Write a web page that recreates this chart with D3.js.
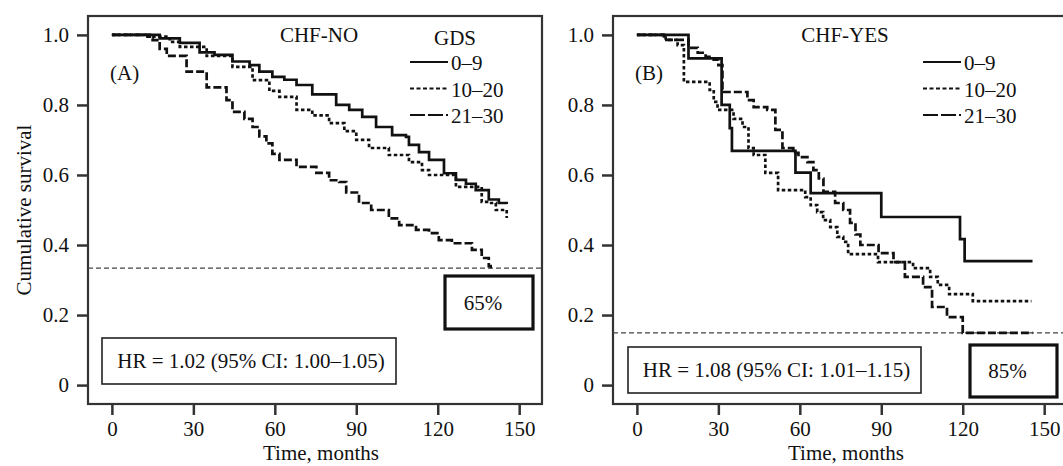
<!DOCTYPE html>
<html>
<head>
<meta charset="utf-8">
<script src="https://cdn.jsdelivr.net/npm/d3@7"></script>
<style>
  body { margin: 0; background: #fff; }
  text { font-family: "Liberation Serif", "Times New Roman", serif; fill: #111; }
</style>
</head>
<body>
<div id="chart"></div>
<script>
// categories / ticks
const groups = ["0–9", "10–20", "21–30"];
const timeTicks = [0, 30, 60, 90, 120, 150];
const survivalTicks = [0, 0.2, 0.4, 0.6, 0.8, 1.0];

// panel A: CHF-NO, [months, cumulative survival]
const chfNo_0_9 = [[0,1],[10.3,1],[17.6,0.99],[25,0.977],[32.3,0.95],[37.8,0.943],[44.4,0.924],[50.7,0.914],[54.3,0.895],[59.1,0.88],[63.5,0.872],[68,0.857],[73.8,0.83],[82.6,0.8],[87.4,0.786],[92.2,0.766],[97.3,0.737],[103.2,0.714],[108.3,0.709],[109.4,0.686],[113.1,0.665],[116.8,0.643],[122.3,0.605],[126.7,0.586],[130.4,0.575],[134,0.557],[138.8,0.53],[142.5,0.52],[145.4,0.517]];
const chfNo_10_20 = [[0,1],[12,0.995],[21.3,0.98],[25,0.966],[34.9,0.94],[44.4,0.909],[51.8,0.871],[58,0.84],[61.7,0.823],[68,0.786],[73.8,0.77],[80,0.748],[85.6,0.725],[90,0.7],[94.7,0.677],[102,0.657],[109.4,0.637],[114.2,0.614],[116.8,0.6],[126.7,0.566],[136.2,0.523],[138.8,0.52],[141.4,0.5],[145.4,0.477]];
const chfNo_21_30 = [[0,1],[14,0.99],[15,0.985],[17.6,0.96],[20.2,0.94],[27.5,0.895],[34.9,0.85],[42.2,0.814],[44.4,0.78],[48.8,0.76],[51.8,0.737],[54.3,0.71],[56.9,0.69],[59.1,0.66],[61.7,0.643],[68,0.623],[75.3,0.606],[80,0.585],[83.7,0.58],[86.3,0.55],[91,0.52],[95.5,0.5],[102,0.476],[105.8,0.457],[112,0.443],[116.8,0.434],[120.4,0.414],[125.2,0.405],[132.6,0.386],[136.2,0.363],[138.8,0.34],[139.5,0.334]];

// panel B: CHF-YES
const chfYes_0_9 = [[0,1],[19,0.933],[31.2,0.8],[34.2,0.734],[35,0.669],[58.4,0.607],[64,0.548],[90,0.48],[119,0.417],[120.7,0.354],[145.7,0.354]];
const chfYes_10_20 = [[0,1],[10.6,0.986],[15,0.971],[17.3,0.866],[26.8,0.843],[28.3,0.809],[29.7,0.786],[35.6,0.76],[38.9,0.737],[41.1,0.677],[43,0.657],[47.3,0.606],[52,0.557],[62,0.537],[64,0.514],[66.4,0.494],[68.6,0.471],[71.2,0.451],[73.8,0.423],[76,0.409],[77.8,0.374],[88.8,0.351],[101.7,0.334],[108,0.309],[110.8,0.286],[115,0.26],[123.7,0.24],[145.3,0.24]];
const chfYes_21_30 = [[0,1],[10,0.986],[19,0.963],[22.4,0.949],[25.3,0.937],[28.3,0.929],[30,0.914],[31.5,0.837],[40.7,0.814],[43,0.794],[48,0.786],[51,0.729],[53.6,0.677],[57.6,0.663],[59.5,0.651],[62.8,0.637],[65,0.614],[67,0.59],[68.7,0.552],[73,0.52],[76,0.5],[78.5,0.463],[80.5,0.43],[82.3,0.4],[89,0.377],[94.5,0.351],[98.7,0.309],[105.4,0.28],[108.7,0.223],[114.2,0.194],[120,0.149],[145.7,0.149]];

// annotations
const refLines = [0.334, 0.149];
const lossLabels = ["65%", "85%"];
const hrLabels = ["HR = 1.02 (95% CI: 1.00–1.05)", "HR = 1.08 (95% CI: 1.01–1.15)"];
const panelTitles = ["CHF-NO", "CHF-YES"];
const panelTags = ["(A)", "(B)"];

const width = 1063, height = 466;
const svg = d3.select("#chart").append("svg")
    .attr("width", width)
    .attr("height", height);

const dashes = { "0–9": null, "10–20": "3.5,2.5", "21–30": "8,3" };
const legendDashes = { "0–9": null, "10–20": "4,2.5", "21–30": "15,3" };

const panels = [
    { left: 88, curves: [chfNo_0_9, chfNo_10_20, chfNo_21_30], ref: refLines[0], loss: lossLabels[0],
      hr: hrLabels[0], title: panelTitles[0], tag: panelTags[0], showGds: true,
      lossBox: [357, 276, 88, 53], hrBox: [14, 338, 294, 46], legendX: 322, titleX: 231 },
    { left: 613, curves: [chfYes_0_9, chfYes_10_20, chfYes_21_30], ref: refLines[1], loss: lossLabels[1],
      hr: hrLabels[1], title: panelTitles[1], tag: panelTags[1], showGds: false,
      lossBox: [357, 345, 87, 52], hrBox: [15, 347, 293, 46], legendX: 310, titleX: 232 }
];

function drawPanel(p) {
    const x = d3.scaleLinear().domain([-8.8, 158.4]).range([p.left, p.left + 454]);
    const y = d3.scaleLinear().domain([-0.054, 1.054]).range([404, 16]);
    const g = svg.append("g");

    // frame
    g.append("rect")
        .attr("x", x.range()[0]).attr("y", 16)
        .attr("width", 454).attr("height", 388)
        .attr("fill", "none").attr("stroke", "#333").attr("stroke-width", 2.2);

    // axes
    const yAxis = d3.axisLeft(y).tickValues(survivalTicks)
        .tickFormat(d => d === 0 ? "0" : d3.format(".1f")(d))
        .tickSize(11).tickPadding(8);
    const xAxis = d3.axisBottom(x).tickValues(timeTicks).tickSize(11).tickPadding(6);

    const ya = g.append("g").attr("transform", `translate(${p.left},0)`).call(yAxis);
    const xa = g.append("g").attr("transform", "translate(0,404)").call(xAxis);
    [ya, xa].forEach(a => {
        a.select(".domain").remove();
        a.selectAll(".tick line").attr("stroke", "#333").attr("stroke-width", 2.5);
        a.selectAll(".tick text").attr("font-size", 21).attr("fill", "#111")
            .attr("font-family", "Liberation Serif, serif");
    });

    g.append("text").attr("x", x(77)).attr("y", 460)
        .attr("text-anchor", "middle").attr("font-size", 21).text("Time, months");

    // reference line
    g.append("line")
        .attr("x1", x.range()[0]).attr("x2", x.range()[1])
        .attr("y1", y(p.ref)).attr("y2", y(p.ref))
        .attr("stroke", "#444").attr("stroke-width", 1.2).attr("stroke-dasharray", "5,3");

    // survival curves
    const line = d3.line().x(d => x(d[0])).y(d => y(d[1])).curve(d3.curveStepAfter);
    p.curves.forEach((c, i) => {
        g.append("path").datum(c)
            .attr("d", line)
            .attr("fill", "none")
            .attr("stroke", "#111")
            .attr("stroke-width", 2.7)
            .attr("stroke-dasharray", dashes[groups[i]]);
    });

    // titles
    g.append("text").attr("x", p.left + p.titleX).attr("y", 42)
        .attr("text-anchor", "middle").attr("font-size", 21).text(p.title);
    g.append("text").attr("x", p.left + 22).attr("y", 80)
        .attr("font-size", 21).text(p.tag);

    // legend
    const lx = p.left + p.legendX;
    if (p.showGds) {
        g.append("text").attr("x", lx + 45).attr("y", 45)
            .attr("text-anchor", "middle").attr("font-size", 21).text("GDS");
    }
    groups.forEach((name, i) => {
        const ly = 62 + i * 26.5;
        g.append("line").attr("x1", lx).attr("x2", lx + 38)
            .attr("y1", ly).attr("y2", ly)
            .attr("stroke", "#111").attr("stroke-width", 2)
            .attr("stroke-dasharray", legendDashes[name]);
        g.append("text").attr("x", lx + 41).attr("y", ly + 8)
            .attr("font-size", 21).text(name);
    });

    // HR box
    const hb = p.hrBox;
    g.append("rect").attr("x", p.left + hb[0]).attr("y", hb[1])
        .attr("width", hb[2]).attr("height", hb[3])
        .attr("fill", "#fff").attr("stroke", "#222").attr("stroke-width", 1.6);
    g.append("text").attr("x", p.left + hb[0] + hb[2] / 2 + 2).attr("y", hb[1] + hb[3] / 2 + 7)
        .attr("text-anchor", "middle").attr("font-size", 21).text(p.hr);

    // loss box
    const lb = p.lossBox;
    g.append("rect").attr("x", p.left + lb[0]).attr("y", lb[1])
        .attr("width", lb[2]).attr("height", lb[3])
        .attr("fill", "#fff").attr("stroke", "#111").attr("stroke-width", 3.2);
    g.append("text").attr("x", p.left + lb[0] + lb[2] / 2 - 6).attr("y", lb[1] + lb[3] / 2 + 7)
        .attr("text-anchor", "middle").attr("font-size", 21).text(p.loss);
}

panels.forEach(drawPanel);

svg.append("text")
    .attr("transform", "translate(31,210) rotate(-90)")
    .attr("text-anchor", "middle").attr("font-size", 21)
    .text("Cumulative survival");
</script>
</body>
</html>
